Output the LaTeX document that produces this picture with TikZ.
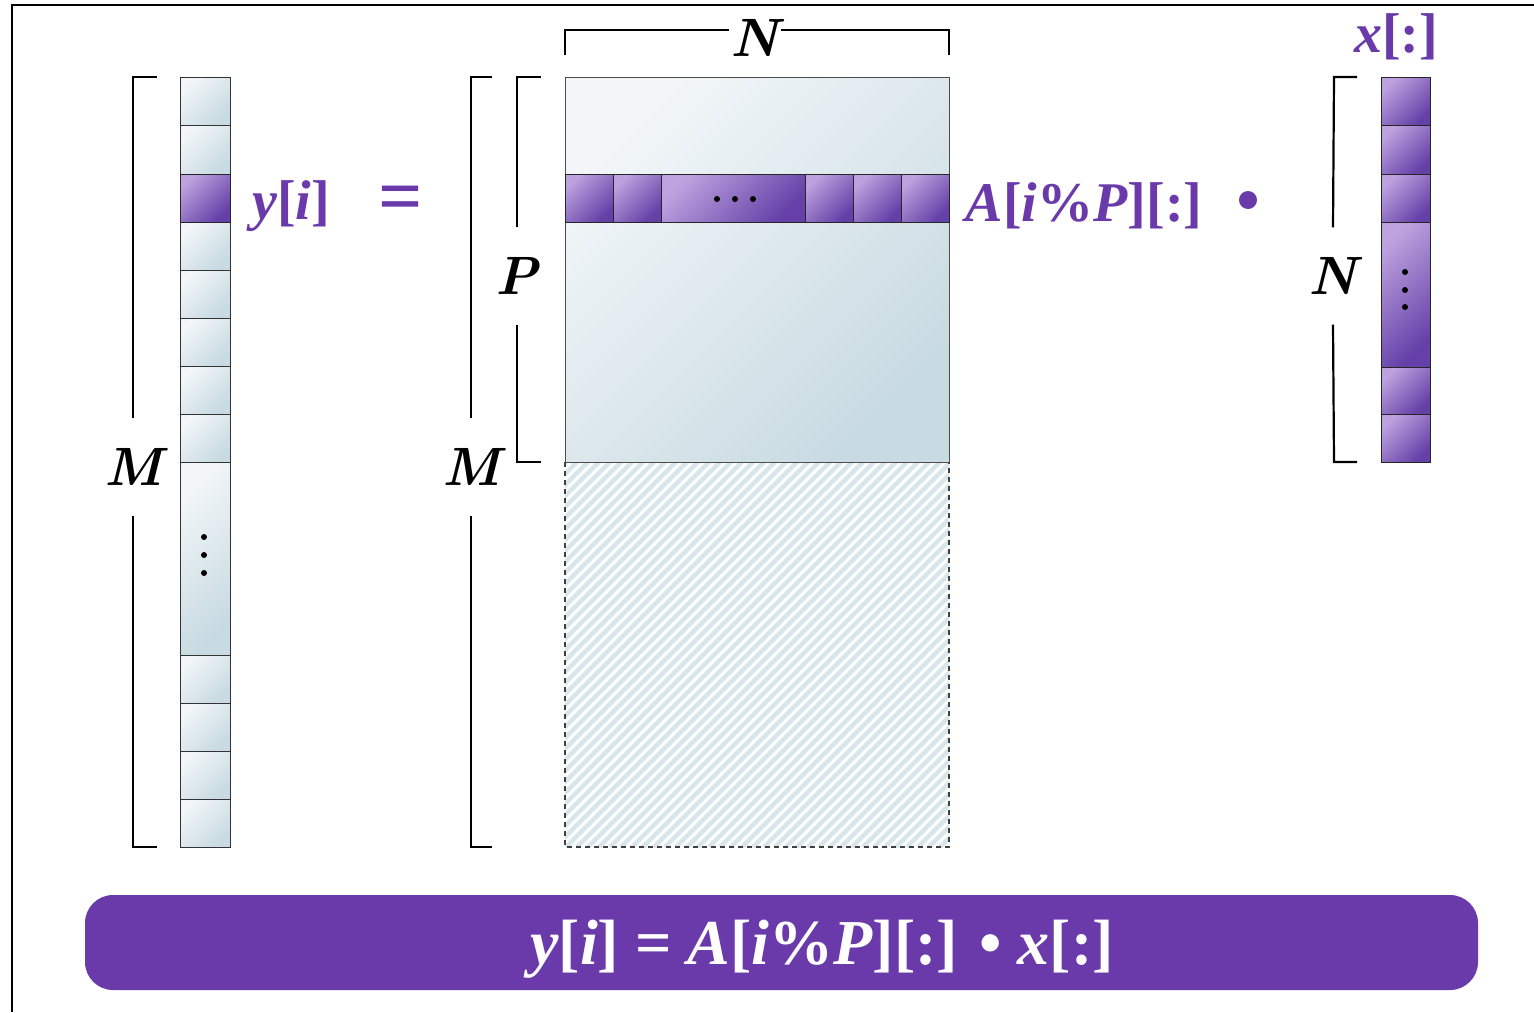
\documentclass[tikz,border=0pt]{standalone}
\usepackage{fontspec}
\newfontfamily\lblfont{Liberation Serif}
\usetikzlibrary{positioning}

\definecolor{vpurple}{HTML}{6A3AAB}
\definecolor{cellhi}{HTML}{F2F6F8}
\definecolor{celllo}{HTML}{C8DAE2}
\definecolor{purphi}{HTML}{BEA2DF}
\definecolor{purplo}{HTML}{6440A8}
\definecolor{hatchc}{HTML}{D8E6EB}

\begin{document}
\begin{tikzpicture}[x=1pt, y=-1pt,
  cell/.style={draw=black!80, line width=1pt, top color=cellhi, bottom color=celllo, shading angle=45},
  pcell/.style={draw=black!85, line width=1pt, top color=purphi, bottom color=purplo, shading angle=45},
  bracket/.style={draw=black, line width=2.2pt},
  dimlbl/.style={font=\fontsize{54}{60}\selectfont\bfseries\itshape, inner xsep=2pt, inner ysep=30pt},
  vlbl/.style={text=vpurple, font=\lblfont\fontsize{56}{62}\selectfont\bfseries, inner sep=0pt},
  hatch/.style={draw=hatchc, line width=4.5pt},
  banner/.style={fill=vpurple, rounded corners=28pt, minimum width=1393pt, minimum height=95pt, inner sep=0pt}
]
\useasboundingbox (0,0) rectangle (1534,1012);

% Frame
\draw[line width=2pt] (12,1012) -- (12,5) -- (1534,5);

% Vector y
\foreach \a/\b in {77/125,125/174,222/270,270/318,318/366,366/414,414/462,462/655,655/703,703/751,751/799,799/847}
  \draw[cell] (180,\a) rectangle (230,\b);
\draw[pcell] (180,174) rectangle (230,222);
\foreach \d in {537,555,573} \fill (204,\d) circle (3pt);

\node[dimlbl] (Mvec) at (133,467) {M};
\draw[bracket] (Mvec.north) -- (133,77) -- (157,77);
\draw[bracket] (Mvec.south) -- (133,847) -- (157,847);

\node[vlbl] (ylbl) at (291,206) {\textit{y}[\textit{i}]};
\node[vlbl, font=\lblfont\fontsize{78}{80}\selectfont\bfseries] (eqsign) at (401,204) {=};

% Matrix A
\begin{scope}
  \clip (565,462) rectangle (949,847);
  \foreach \a in {170,181,...,960}
    \draw[hatch] (\a,847) -- (\a+385,462);
\end{scope}
\draw[dashed, draw=black!75, line width=1.2pt, dash pattern=on 5pt off 4pt] (565,462) rectangle (949,847);
\draw[cell, draw=black!70] (565,77) rectangle (949,462);
\foreach \a/\b in {565/613,613/661,661/805,805/853,853/901,901/949}
  \draw[pcell] (\a,174) rectangle (\b,222);
\foreach \d in {717,735,753} \fill (\d,199) circle (3pt);

\node[dimlbl] (Mmat) at (471,467) {M};
\draw[bracket] (Mmat.north) -- (471,77) -- (492,77);
\draw[bracket] (Mmat.south) -- (471,847) -- (492,847);

\node[dimlbl] (Pmat) at (517,276) {P};
\draw[bracket] (Pmat.north) -- (517,77) -- (541,77);
\draw[bracket] (Pmat.south) -- (517,462) -- (541,462);

\node[dimlbl, inner ysep=0pt] (Nmat) at (755,38) {N};
\coordinate (ntop) at (565,30);
\draw[bracket] (565,55) -- (ntop) -- (Nmat.west |- ntop);
\draw[bracket] (949,55) -- (949,30) -- (Nmat.east |- ntop);

\node[vlbl] (albl) at (1084,206) {\textit{A}[\textit{i}\%\textit{P}][:]};
\node[circle, fill=vpurple, inner sep=0pt, minimum size=18pt] (dotop) at (1248,200) {};

% Vector x
\foreach \a/\b in {77/125,125/174,174/222,222/367,367/414,414/462}
  \draw[pcell] (1381,\a) rectangle (1430,\b);
\foreach \d in {272,290,307} \fill (1405,\d) circle (3pt);

\node[vlbl] (xlbl) at (1396,37) {\textit{x}[:]};

\node[dimlbl] (Nvec) at (1333,276) {N};
\draw[bracket] (Nvec.north) -- (1334,77) -- (1357,77);
\draw[bracket] (Nvec.south) -- (1334,462) -- (1357,462);

% Formula banner
\node[banner] (band) at (781.5,942.5) {};
\node[text=white, font=\lblfont\fontsize{64}{70}\selectfont\bfseries, inner sep=0pt] (formula) at (822,949)
  {\textit{y}[\textit{i}] = \textit{A}[\textit{i}\%\textit{P}][:] \textbullet{} \textit{x}[:]};

\end{tikzpicture}
\end{document}
